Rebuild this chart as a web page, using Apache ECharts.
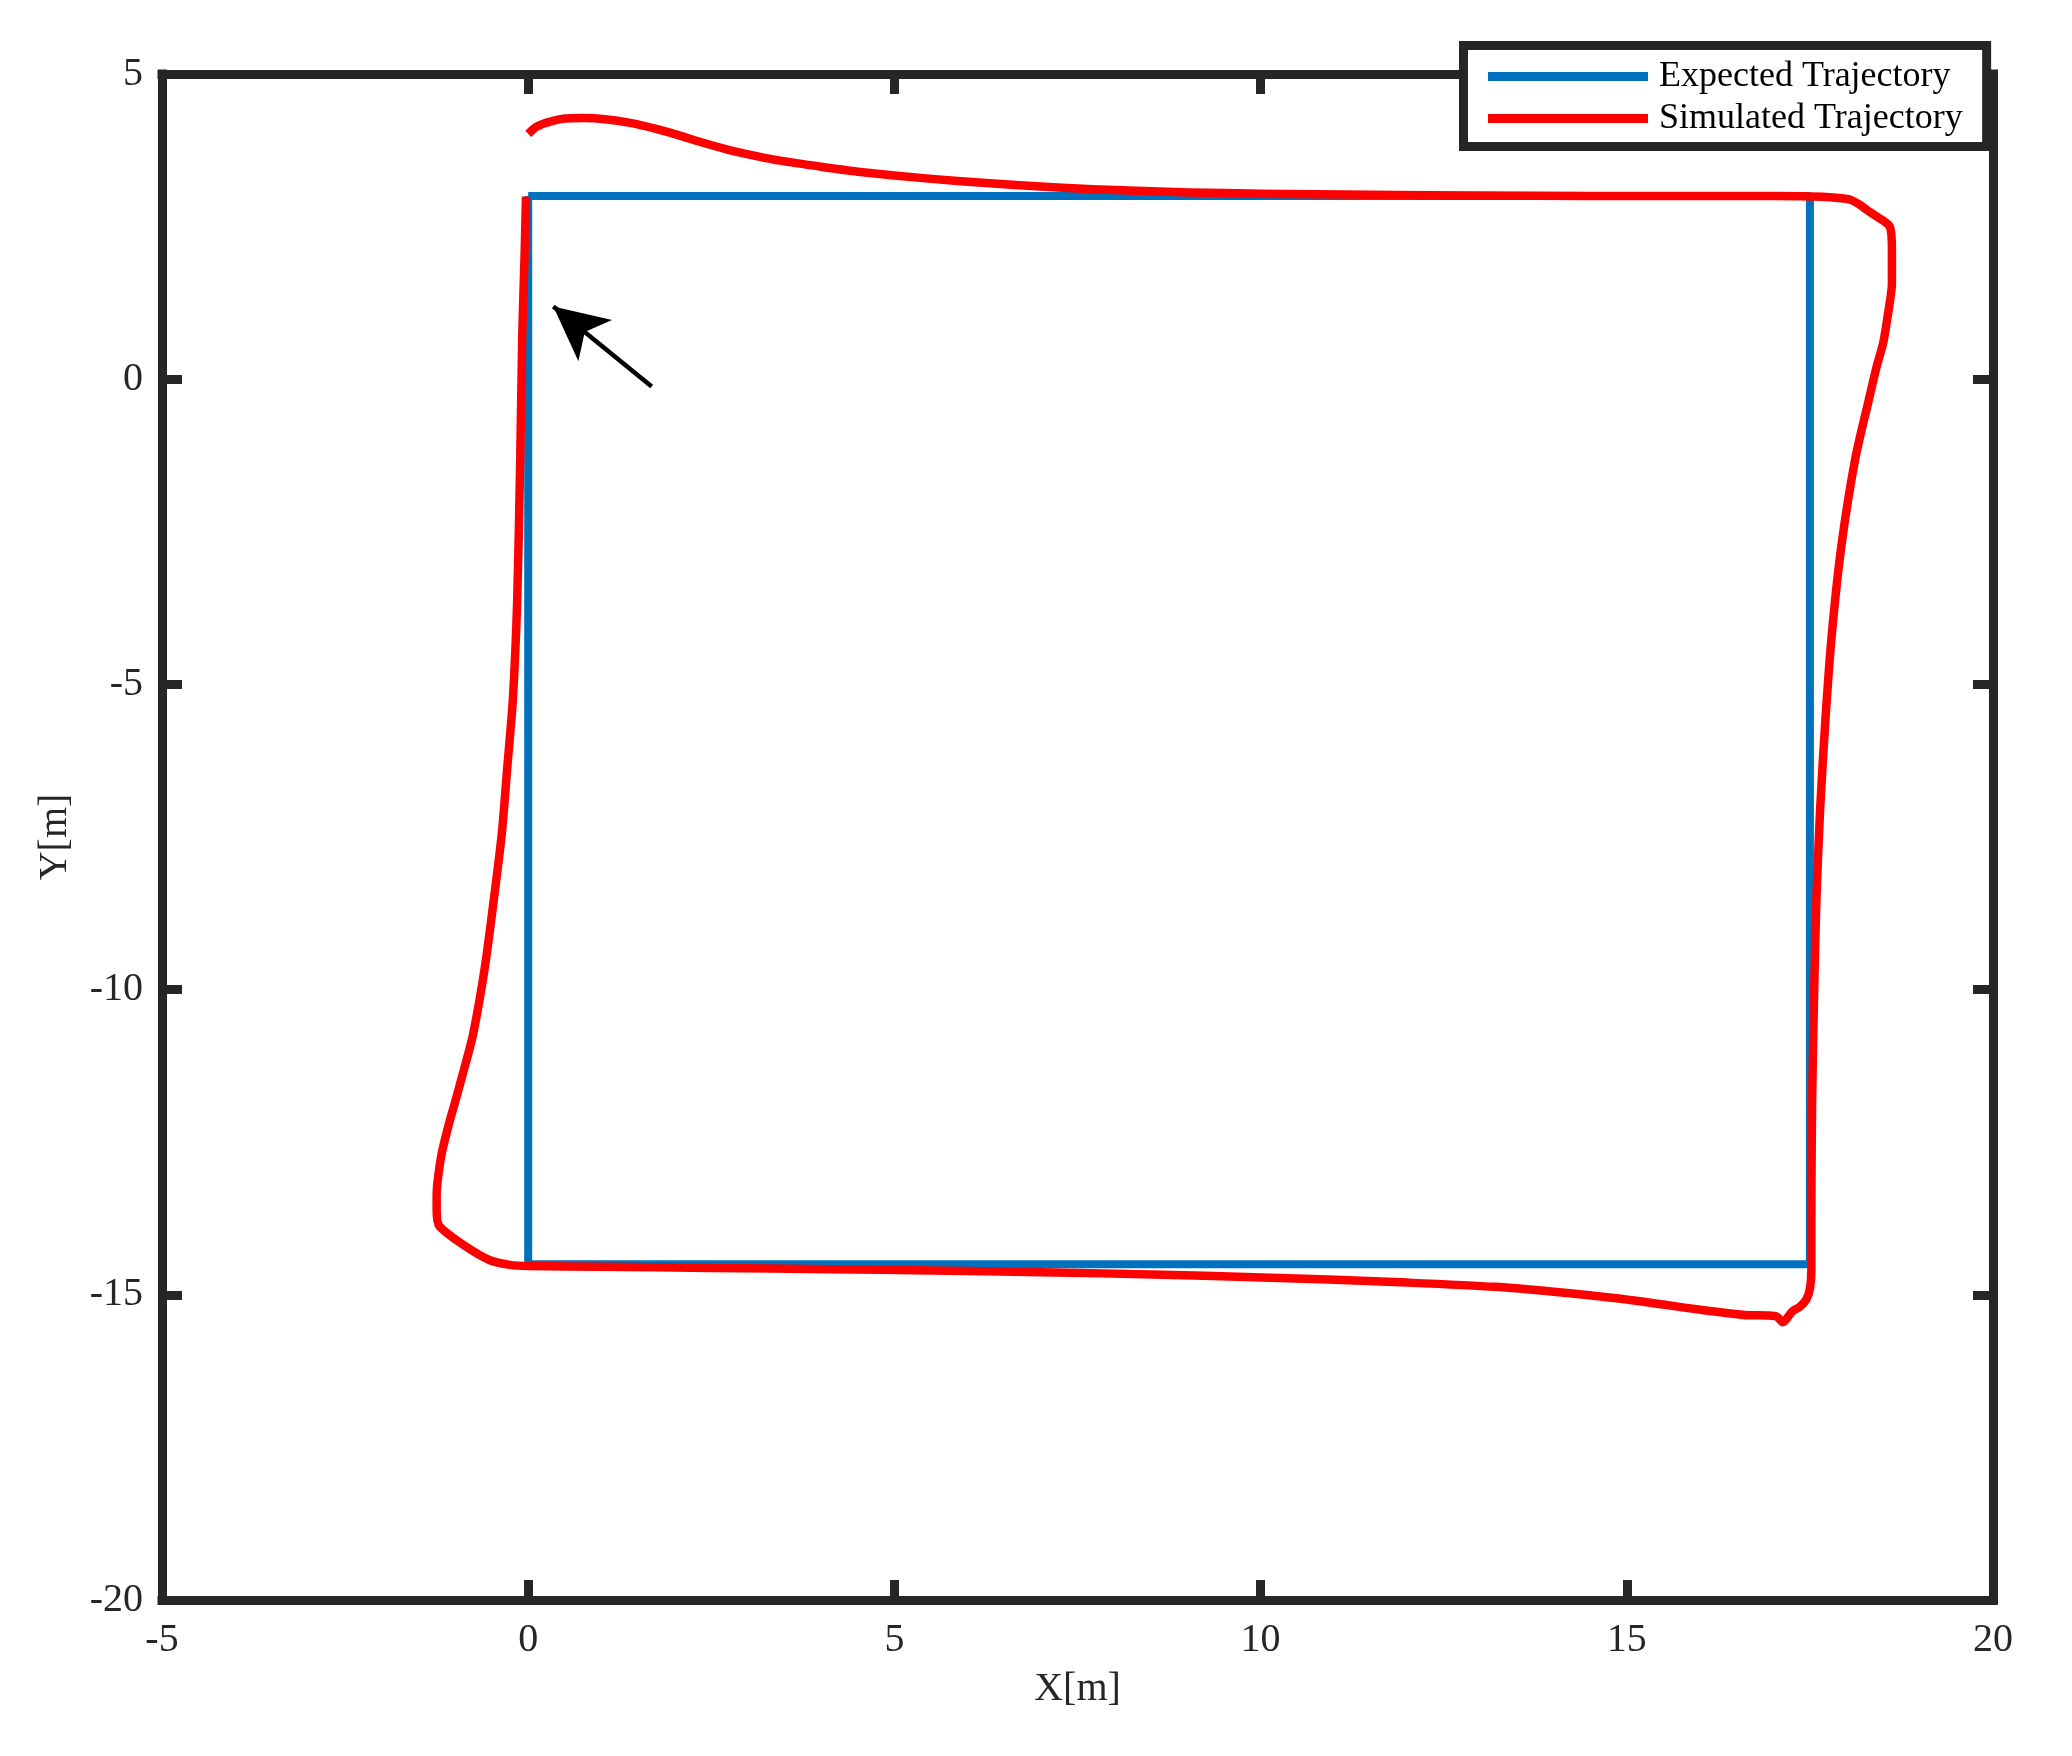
<!DOCTYPE html>
<html>
<head>
<meta charset="utf-8">
<script src="https://cdn.jsdelivr.net/npm/echarts@6/dist/echarts.min.js"></script>
<style>
html,body{margin:0;padding:0;background:#fff;}
#chart{width:2072px;height:1756px;}
</style>
</head>
<body>
<div id="chart"></div>
<script>
// ---- data ----
const seriesNames = ['Expected Trajectory', 'Simulated Trajectory'];
const xTicks = {min: -5, max: 20, interval: 5};
const yTicks = {min: -20, max: 5, interval: 5};

const expectedPath = [[0, 3], [17.5, 3], [17.5, -14.5], [0, -14.5], [0, 3]];

const simulatedPath = [
  [0.00, 4.02], [0.12, 4.14], [0.30, 4.22], [0.50, 4.27], [0.75, 4.28], [1.05, 4.26],
  [1.39, 4.20], [1.75, 4.10], [2.07, 3.99], [2.40, 3.87], [2.76, 3.75], [3.10, 3.66],
  [3.44, 3.58], [4.00, 3.48], [4.50, 3.40], [5.43, 3.29], [6.30, 3.21], [7.23, 3.14],
  [8.20, 3.09], [9.03, 3.06], [10.0, 3.04], [11.5, 3.02], [13.0, 3.01], [14.5, 3.00],
  [16.0, 3.00], [17.0, 3.00], [17.68, 2.99], [17.88, 2.97], [18.05, 2.94], [18.18, 2.86],
  [18.28, 2.77], [18.42, 2.66], [18.59, 2.50], [18.62, 2.12], [18.62, 1.57], [18.56, 1.02],
  [18.50, 0.59], [18.41, 0.20], [18.30, -0.36], [18.12, -1.30], [17.93, -2.73], [17.80, -4.17],
  [17.71, -5.61], [17.64, -7.04], [17.59, -8.48], [17.56, -9.92], [17.53, -11.84], [17.52, -13.75],
  [17.52, -14.60], [17.50, -14.90], [17.45, -15.08], [17.36, -15.20], [17.26, -15.27], [17.13, -15.45],
  [17.05, -15.36], [16.94, -15.34], [16.60, -15.33], [16.03, -15.25], [15.50, -15.16], [14.89, -15.06],
  [14.00, -14.95], [13.20, -14.87], [12.00, -14.80], [10.93, -14.75], [9.80, -14.71], [8.67, -14.67],
  [7.00, -14.63], [5.50, -14.60], [4.14, -14.58], [2.50, -14.56], [1.00, -14.54], [0.01, -14.53],
  [-0.25, -14.51], [-0.53, -14.43], [-0.85, -14.21], [-1.215, -13.87], [-1.25, -13.60], [-1.25, -13.39],
  [-1.24, -13.17], [-1.18, -12.68], [-1.08, -12.19], [-1.00, -11.85], [-0.87, -11.28], [-0.75, -10.72],
  [-0.59, -9.62], [-0.47, -8.53], [-0.36, -7.44], [-0.285, -6.35], [-0.21, -5.26], [-0.15, -3.62],
  [-0.11, -1.38], [-0.08, 0.78], [-0.05, 2.00], [-0.03, 2.99]
];

// annotation arrow: [tail, tip]
const arrowTail = [1.686, -0.12];
const arrowTip = [0.343, 1.19];

// ---- chart ----
const FONT = '"Liberation Serif", "Times New Roman", serif';
const AX = '#262626';
const chart = echarts.init(document.getElementById('chart'), null, {renderer: 'canvas'});

function xAxisCfg(pos, labels) {
  return {
    type: 'value', position: pos, min: xTicks.min, max: xTicks.max, interval: xTicks.interval,
    axisLine: {show: true, onZero: false, lineStyle: {color: AX, width: 9, cap: 'square'}},
    axisTick: {show: true, inside: true, length: 20, lineStyle: {color: AX, width: 9}},
    axisLabel: {show: labels, fontFamily: FONT, fontSize: 40, color: AX, margin: 20},
    splitLine: {show: false},
    name: labels ? 'X[m]' : '', nameLocation: 'middle', nameGap: 69,
    nameTextStyle: {fontFamily: FONT, fontSize: 40, color: AX}
  };
}
function yAxisCfg(pos, labels) {
  return {
    type: 'value', position: pos, min: yTicks.min, max: yTicks.max, interval: yTicks.interval,
    axisLine: {show: true, onZero: false, lineStyle: {color: AX, width: 9, cap: 'square'}},
    axisTick: {show: true, inside: true, length: 20, lineStyle: {color: AX, width: 9}},
    axisLabel: {show: labels, fontFamily: FONT, fontSize: 40, color: AX, margin: 19},
    splitLine: {show: false},
    name: labels ? 'Y[m]' : '', nameLocation: 'middle', nameGap: 87,
    nameTextStyle: {fontFamily: FONT, fontSize: 40, color: AX}
  };
}

chart.setOption({
  animation: false,
  backgroundColor: '#ffffff',
  grid: {left: 162, right: 79, top: 74, bottom: 156, containLabel: false},
  xAxis: [xAxisCfg('bottom', true), xAxisCfg('top', false)],
  yAxis: [yAxisCfg('left', true), yAxisCfg('right', false)],
  legend: {
    data: seriesNames,
    orient: 'vertical',
    left: 1463.5, top: 45.5,
    padding: [13, 24, 10, 24.5],
    itemGap: 6,
    itemWidth: 160, itemHeight: 9,
    icon: 'rect',
    backgroundColor: '#ffffff',
    borderColor: AX, borderWidth: 9,
    textStyle: {fontFamily: FONT, fontSize: 36, color: '#000', padding: [0, 0, 0, 6]},
    z: 10
  },
  series: [
    {
      name: seriesNames[0], type: 'line', xAxisIndex: 0, yAxisIndex: 0,
      data: expectedPath, showSymbol: false, symbol: 'none',
      lineStyle: {color: '#0072BD', width: 8}, itemStyle: {color: '#0072BD'},
      z: 2,
      markLine: {
        silent: true, symbol: ['none', 'arrow'], symbolSize: [40, 54],
        label: {show: false},
        lineStyle: {color: '#000000', type: 'solid', width: 4.5},
        data: [[{coord: arrowTail}, {coord: arrowTip}]]
      }
    },
    {
      name: seriesNames[1], type: 'line', xAxisIndex: 0, yAxisIndex: 0,
      data: simulatedPath, showSymbol: false, symbol: 'none', smooth: 0.25,
      lineStyle: {color: '#FF0000', width: 8.5, join: 'round'}, itemStyle: {color: '#FF0000'},
      z: 3
    }
  ]
});
</script>
</body>
</html>
